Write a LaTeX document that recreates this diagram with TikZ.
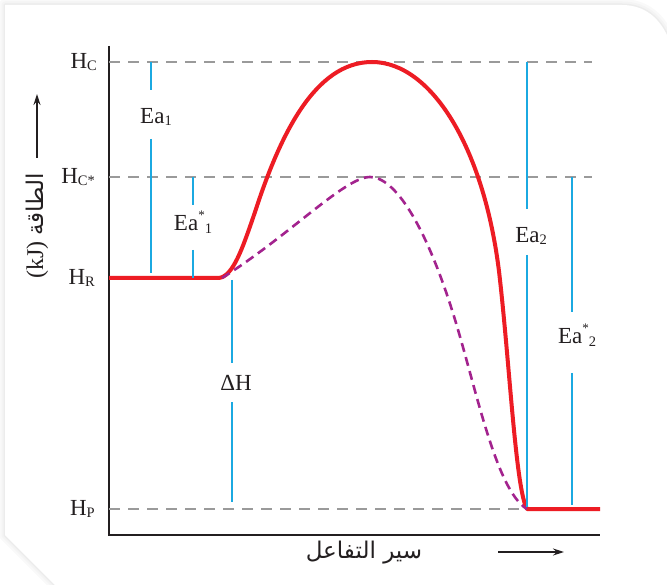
\documentclass[tikz,border=0pt]{standalone}
\usepackage{fontspec}
\setmainfont{Liberation Serif}
\newfontfamily\arabicfont[Script=Arabic]{DejaVu Sans}
\TeXXeTstate=1
\usetikzlibrary{arrows.meta}
\definecolor{cred}{HTML}{ED1C24}
\definecolor{cpurple}{HTML}{A3238E}
\definecolor{ccyan}{HTML}{1BA9E1}
\definecolor{cgray}{HTML}{9A9A9A}
\definecolor{caxis}{HTML}{231F20}
\newcommand{\lowtxt}[1]{\raisebox{-0.12em}{\fontsize{14.5}{14.5}\selectfont #1}}
\newcommand{\uptxt}[1]{\raisebox{0.5em}{\fontsize{13}{13}\selectfont #1}}
\tikzset{
  lvl/.style={cgray, line width=1.6pt, dash pattern=on 11pt off 8pt},
  meas/.style={ccyan, line width=2pt},
  axisline/.style={caxis, line width=2.2pt},
  lbl/.style={inner sep=0pt, text=caxis},
  hlbl/.style={inner sep=0pt, anchor=east, text=caxis},
  arr/.style={caxis, line width=1.3pt, -{Stealth[length=11pt,width=7pt]}},
}
\begin{document}
\begin{tikzpicture}[x=1pt,y=-1pt,font=\fontsize{23}{27}\selectfont]
\useasboundingbox (0,0) rectangle (667,585);
% card with soft shadow
\def\cardpath{(95,625) -- (5,535) -- (5,5) -- (622,5) .. controls (648,5) and (664,22) .. (672,48) -- (680,625) -- cycle}
\draw[gray!5, line width=12pt, line join=round] \cardpath;
\draw[gray!9, line width=7pt, line join=round] \cardpath;
\draw[gray!15, line width=3pt, line join=round] \cardpath;
\fill[white] \cardpath;

% axes
\coordinate (O) at (109,535);
\coordinate (Ytop) at (109,46);
\coordinate (Xend) at (600,535);
\draw[axisline] (Ytop) -- (O) -- (Xend);

% level coordinates
\coordinate (HCa) at (109,62);   \coordinate (HCb) at (592,62);
\coordinate (HSa) at (109,177);  \coordinate (HSb) at (592,177);
\coordinate (HPa) at (109,509);  \coordinate (HPb) at (592,509);
\draw[lvl] (HCa) -- (HCb);
\draw[lvl] (HSa) -- (HSb);
\draw[lvl] (HPa) -- (HPb);

% level labels
\node[hlbl] (hc) at (97,62) {H\lowtxt{C}};
\node[hlbl] (hs) at (95,177) {H\lowtxt{C*}};
\node[hlbl] (hr) at (95,278) {H\lowtxt{R}};
\node[hlbl] (hp) at (95,509) {H\lowtxt{P}};

% uncatalysed path (red)
\coordinate (R0) at (109,278);
\coordinate (R1) at (219,278);
\coordinate (Pk) at (372,62);
\coordinate (P0) at (527,509);
\coordinate (P1) at (600,509);
\draw[cred, line width=4pt, line join=round]
  (R0) -- (R1)
  .. controls (233,276) and (242,250) .. (255,212)
  .. controls (280,135) and (315,62) .. (Pk)
  .. controls (432,62) and (486,150) .. (500,280)
  .. controls (510,370) and (516,490) .. (P0)
  -- (P1);

% catalysed path (purple dashed)
\coordinate (Ck) at (370,177);
\draw[cpurple, line width=2.6pt, dash pattern=on 9pt off 5.5pt]
  (222,278) .. controls (290,235) and (345,177) .. (Ck)
  .. controls (395,177) and (425,225) .. (452,310)
  .. controls (475,382) and (495,490) .. (P0);

% measurement lines
\node[lbl] (ea1) at (156,117) {Ea\lowtxt{1}};
\draw[meas] (151,62) -- (151,90);
\draw[meas] (151,139) -- (151,273);

\node[lbl] (ea1s) at (193,222) {Ea\uptxt{*}\lowtxt{1}};
\draw[meas] (193,177) -- (193,205);
\draw[meas] (193,250) -- (193,278);

\node[lbl] (dh) at (236,383) {ΔH};
\draw[meas] (232,280) -- (232,363);
\draw[meas] (232,402) -- (232,502);

\node[lbl] (ea2) at (531,236) {Ea\lowtxt{2}};
\draw[meas] (527,62) -- (527,209);
\draw[meas] (527,255) -- (527,507);

\node[lbl] (ea2s) at (577,335) {Ea\uptxt{*}\lowtxt{2}};
\draw[meas] (572,177) -- (572,312);
\draw[meas] (572,373) -- (572,505);

% axis titles
\node[lbl, rotate=90] (ytitle) at (37,226) {{\fontsize{24}{27}\selectfont (kJ)}\ {\arabicfont\fontsize{23}{26}\selectfont\beginR الطاقة\endR}};
\coordinate (ya0) at (37,158);
\coordinate (ya1) at (37,94);
\draw[arr] (ya0) -- (ya1);

\node[lbl] (xtitle) at (364,553) {\arabicfont\beginR سير التفاعل\endR};
\coordinate (xa0) at (498,552);
\coordinate (xa1) at (564,552);
\draw[arr] (xa0) -- (xa1);
\end{tikzpicture}
\end{document}
